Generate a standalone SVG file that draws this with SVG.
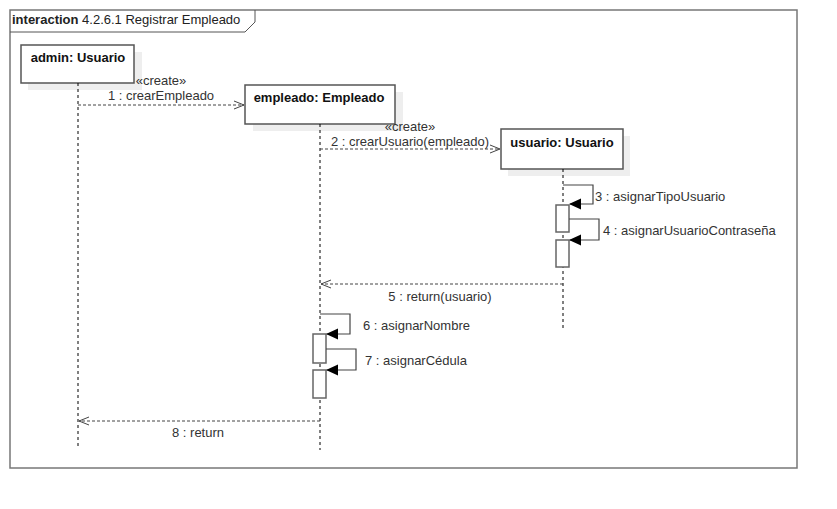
<svg xmlns="http://www.w3.org/2000/svg" width="837" height="509" viewBox="0 0 837 509">
<style>
text{font-family:"Liberation Sans",Arial,sans-serif;font-size:13px;fill:#333}
.name{font-weight:bold;font-size:13px;fill:#111;text-anchor:middle}
.box{fill:#fff;stroke:#555;stroke-width:1.5}
.shadow{fill:#eee}
.life{stroke:#000;stroke-width:1;stroke-dasharray:3,3;fill:none}
.msg{stroke:#444;stroke-width:1;stroke-dasharray:3,2;fill:none}
.self{stroke:#444;stroke-width:1.2;fill:none}
.act{fill:#fff;stroke:#666;stroke-width:1.5}
.c{text-anchor:middle}
</style>
<defs>
<marker id="open" markerWidth="12" markerHeight="10" refX="10" refY="5" orient="auto" markerUnits="userSpaceOnUse">
<path d="M0,1 L10,5 L0,9" fill="none" stroke="#444" stroke-width="1"/>
</marker>
<marker id="filled" markerWidth="14" markerHeight="12" refX="11" refY="6" orient="auto" markerUnits="userSpaceOnUse">
<path d="M12,6 L0,0.5 L0,11.5 Z" fill="#000"/>
</marker>
</defs>
<rect width="837" height="509" fill="#fff"/>
<g id="frame">
<rect x="10" y="10" width="787" height="458" fill="none" stroke="#777" stroke-width="1.5"/>
<path d="M10,32 L245,32 L255,22 L255,10" fill="none" stroke="#555" stroke-width="1"/>
<text x="12" y="24" style="font-size:13px;fill:#222"><tspan font-weight="bold">interaction</tspan> 4.2.6.1 Registrar Empleado</text>
</g>
<g id="admin">
<rect class="shadow" x="28" y="52" width="114" height="38"/>
<rect class="box" x="21" y="45" width="113" height="38"/>
<text class="name" x="78" y="62">admin: Usuario</text>
<line class="life" x1="78" y1="83" x2="78" y2="448"/>
</g>
<g id="empleado">
<rect class="shadow" x="253" y="92" width="150" height="39"/>
<rect class="box" x="245" y="85" width="150" height="39"/>
<text class="name" x="319" y="102">empleado: Empleado</text>
<line class="life" x1="320" y1="124" x2="320" y2="450"/>
<rect class="act" x="313" y="334" width="13" height="29"/>
<rect class="act" x="313" y="370" width="13" height="28"/>
</g>
<g id="usuario">
<rect class="shadow" x="508" y="136" width="122" height="40"/>
<rect class="box" x="501" y="129" width="122" height="40"/>
<text class="name" x="562" y="147">usuario: Usuario</text>
<line class="life" x1="563" y1="169" x2="563" y2="330"/>
<rect class="act" x="556" y="205" width="13" height="27"/>
<rect class="act" x="556" y="240" width="13" height="27"/>
</g>
<g id="connectors">
<line class="msg" x1="78" y1="105" x2="244" y2="105" marker-end="url(#open)"/>
<text class="c" x="161" y="85">«create»</text>
<text class="c" x="161" y="100">1 : crearEmpleado</text>
<line class="msg" x1="320" y1="149" x2="500" y2="149" marker-end="url(#open)"/>
<text class="c" x="410" y="131">«create»</text>
<text class="c" x="410" y="146">2 : crearUsuario(empleado)</text>
<path class="self" d="M563,185 L593,185 L593,204 L570,204" marker-end="url(#filled)"/>
<text x="595" y="201">3 : asignarTipoUsuario</text>
<path class="self" d="M569,219 L599,219 L599,240 L570,240" marker-end="url(#filled)"/>
<text x="603" y="235">4 : asignarUsuarioContraseña</text>
<line class="msg" x1="563" y1="284" x2="321" y2="284" marker-end="url(#open)"/>
<text class="c" x="440" y="301">5 : return(usuario)</text>
<path class="self" d="M320,314 L350,314 L350,334 L327,334" marker-end="url(#filled)"/>
<text x="363" y="330">6 : asignarNombre</text>
<path class="self" d="M326,349 L356,349 L356,370 L327,370" marker-end="url(#filled)"/>
<text x="365" y="365">7 : asignarCédula</text>
<line class="msg" x1="320" y1="421" x2="79" y2="421" marker-end="url(#open)"/>
<text class="c" x="198" y="437">8 : return</text>
</g>
</svg>
